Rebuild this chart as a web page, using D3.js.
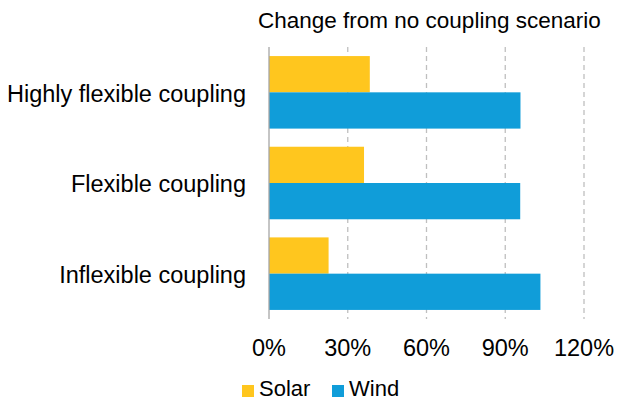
<!DOCTYPE html>
<html>
<head>
<meta charset="utf-8">
<script src="https://cdn.jsdelivr.net/npm/d3@7"></script>
<style>
  body { margin: 0; background: #fff; }
  text { font-family: "Liberation Sans", Arial, sans-serif; fill: #000; }
</style>
</head>
<body>
<svg id="chart" width="622" height="401"></svg>
<script>
const categories = ["Highly flexible coupling", "Flexible coupling", "Inflexible coupling"];
const seriesNames = ["Solar", "Wind"];
const solarValues = [38.4, 36.2, 22.7];
const windValues = [95.8, 95.7, 103.4];
const xTicks = [0, 30, 60, 90, 120];
const colors = { Solar: "#FFC61E", Wind: "#109DD9" };

const svg = d3.select("#chart");
const plot = { left: 269, right: 584, top: 47, bottom: 319 };

const x = d3.scaleLinear().domain([0, 120]).range([plot.left, plot.right]);
const y = d3.scaleBand().domain(categories).range([plot.top, plot.bottom]).paddingInner(0.2).paddingOuter(0.1);
const ySub = d3.scaleBand().domain(seriesNames).range([0, y.bandwidth()]);

// dashed gridlines
svg.append("g").selectAll("line")
  .data(xTicks.filter(d => d > 0))
  .join("line")
  .attr("x1", d => x(d)).attr("x2", d => x(d))
  .attr("y1", plot.top).attr("y2", plot.bottom)
  .attr("stroke", "#BFBFBF").attr("stroke-width", 1.3)
  .attr("stroke-dasharray", "5,4");

// bars
const rows = categories.map((c, i) => ({ c, Solar: solarValues[i], Wind: windValues[i] }));
const groups = svg.append("g").selectAll("g")
  .data(rows).join("g")
  .attr("transform", d => `translate(0,${y(d.c)})`);
groups.selectAll("rect")
  .data(d => seriesNames.map(s => ({ s, v: d[s] })))
  .join("rect")
  .attr("x", x(0))
  .attr("y", d => ySub(d.s))
  .attr("width", d => x(d.v) - x(0))
  .attr("height", ySub.bandwidth())
  .attr("fill", d => colors[d.s]);

// category axis line
svg.append("line")
  .attr("x1", x(0)).attr("x2", x(0))
  .attr("y1", plot.top).attr("y2", plot.bottom)
  .attr("stroke", "#A6A6A6").attr("stroke-width", 1.3);

// category labels
svg.append("g").selectAll("text")
  .data(categories).join("text")
  .attr("x", 246)
  .attr("y", d => y(d) + y.bandwidth() / 2 + 1)
  .attr("dy", "0.35em")
  .attr("text-anchor", "end")
  .attr("font-size", 23.5)
  .text(d => d);

// value axis tick labels
svg.append("g").selectAll("text")
  .data(xTicks).join("text")
  .attr("x", d => x(d))
  .attr("y", 348)
  .attr("dy", "0.35em")
  .attr("text-anchor", "middle")
  .attr("font-size", 23.5)
  .text(d => d + "%");

// title
svg.append("text")
  .attr("x", 258).attr("y", 20).attr("dy", "0.35em")
  .attr("font-size", 22.5)
  .text("Change from no coupling scenario");

// legend
const legend = svg.append("g");
const legendPos = [{ s: "Solar", x: 242 }, { s: "Wind", x: 332 }];
legendPos.forEach(p => {
  legend.append("rect").attr("x", p.x).attr("y", 385).attr("width", 12).attr("height", 12).attr("fill", colors[p.s]);
  legend.append("text").attr("x", p.x + 17).attr("y", 388).attr("dy", "0.35em").attr("font-size", 22).text(p.s);
});
</script>
</body>
</html>
